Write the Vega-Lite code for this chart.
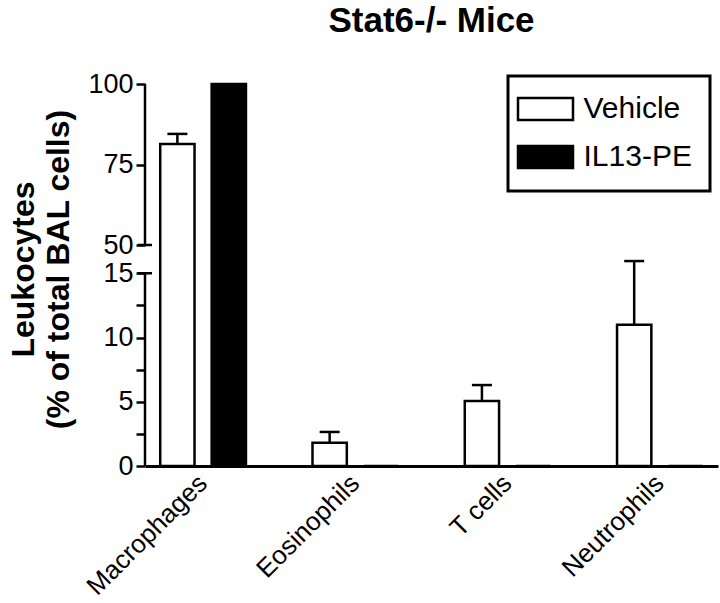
{
  "$schema": "https://vega.github.io/schema/vega-lite/v6.json",
  "width": 573,
  "height": 382,
  "autosize": {"type": "none"},
  "padding": {"left": 145, "top": 84, "right": 2, "bottom": 137},
  "background": "white",
  "config": {
    "view": {"stroke": null},
    "font": "Liberation Sans"
  },
  "title": {
    "text": "Stat6-/- Mice",
    "font": "Liberation Sans",
    "fontSize": 35,
    "fontWeight": "bold",
    "color": "black",
    "anchor": "middle",
    "frame": "group",
    "baseline": "alphabetic",
    "offset": 3
  },
  "datasets": {
    "bars": [
      {"cell": "Macrophages", "treatment": "Vehicle", "pct": 81.4, "sem_top": 84.5},
      {"cell": "Macrophages", "treatment": "IL13-PE", "pct": 100, "sem_top": null},
      {"cell": "Eosinophils", "treatment": "Vehicle", "pct": 1.8, "sem_top": 2.65},
      {"cell": "Eosinophils", "treatment": "IL13-PE", "pct": 0, "sem_top": null},
      {"cell": "T cells", "treatment": "Vehicle", "pct": 5.05, "sem_top": 6.3},
      {"cell": "T cells", "treatment": "IL13-PE", "pct": 0, "sem_top": null},
      {"cell": "Neutrophils", "treatment": "Vehicle", "pct": 11.0, "sem_top": 15.95},
      {"cell": "Neutrophils", "treatment": "IL13-PE", "pct": 0, "sem_top": null}
    ],
    "axisSegments": [
      {"lo": 0, "hi": 15},
      {"lo": 50, "hi": 100}
    ],
    "breakTicks": [
      {"v": 15},
      {"v": 50}
    ]
  },
  "layer": [
    {
      "data": {"name": "bars"},
      "mark": {"type": "bar", "stroke": "black", "strokeWidth": 2.5},
      "encoding": {
        "x": {
          "field": "cell",
          "type": "nominal",
          "sort": ["Macrophages", "Eosinophils", "T cells", "Neutrophils"],
          "scale": {"paddingInner": 0.437, "paddingOuter": 0.1},
          "axis": {
            "title": null,
            "labelAngle": -45,
            "labelAlign": "right",
            "labelBaseline": "middle",
            "labelFont": "Liberation Sans",
            "labelFontSize": 26,
            "labelColor": "black",
            "labelPadding": 13,
            "ticks": false,
            "domainColor": "black",
            "domainWidth": 3
          }
        },
        "xOffset": {
          "field": "treatment",
          "type": "nominal",
          "sort": ["Vehicle", "IL13-PE"],
          "scale": {"paddingInner": 0.333, "paddingOuter": 0}
        },
        "y": {
          "field": "pct",
          "type": "quantitative",
          "scale": {"domain": [0, 17.2, 50, 100], "range": [382, 161, 161, 0], "nice": false, "zero": false},
          "axis": {
            "values": [0, 2.5, 5, 7.5, 10, 12.5, 15, 50, 75, 100],
            "labelExpr": "(datum.value == 2.5 || datum.value == 7.5 || datum.value == 12.5) ? '' : datum.label",
            "labelOverlap": false,
            "labelFont": "Liberation Sans",
            "labelFontSize": 27,
            "labelColor": "black",
            "labelPadding": 3,
            "tickSize": 9,
            "tickWidth": 2.5,
            "tickColor": "black",
            "domain": false,
            "grid": false,
            "title": ["Leukocytes", "(% of total BAL cells)"],
            "titleFont": "Liberation Sans",
            "titleFontSize": 32,
            "titleFontWeight": "bold",
            "titleColor": "black",
            "titleLineHeight": 35,
            "titlePadding": 12,
            "titleY": 185
          }
        },
        "fill": {
          "field": "treatment",
          "type": "nominal",
          "sort": ["Vehicle", "IL13-PE"],
          "scale": {"domain": ["Vehicle", "IL13-PE"], "range": ["white", "black"]},
          "legend": {
            "title": null,
            "orient": "none",
            "legendX": 363,
            "legendY": -8,
            "padding": 18,
            "strokeColor": "black",
            "labelFont": "Liberation Sans",
            "labelFontSize": 30,
            "labelColor": "black",
            "labelOffset": 23,
            "rowPadding": 16,
            "symbolType": "M-2.5,-1H2.5V1H-2.5Z",
            "symbolSize": 484,
            "symbolOffset": 4.5,
            "symbolStrokeColor": "black",
            "symbolStrokeWidth": 2.5,
            "symbolOpacity": 1,
            "encode": {"legend": {"update": {"strokeWidth": {"value": 3}, "stroke": {"value": "black"}}}}
          }
        }
      }
    },
    {
      "data": {"name": "bars"},
      "transform": [{"filter": "datum.sem_top != null"}],
      "mark": {"type": "rule", "color": "black", "strokeWidth": 2.5},
      "encoding": {
        "x": {"field": "cell", "type": "nominal", "sort": ["Macrophages", "Eosinophils", "T cells", "Neutrophils"]},
        "xOffset": {"field": "treatment", "type": "nominal", "sort": ["Vehicle", "IL13-PE"]},
        "y": {"field": "pct", "type": "quantitative"},
        "y2": {"field": "sem_top"}
      }
    },
    {
      "data": {"name": "bars"},
      "transform": [{"filter": "datum.sem_top != null"}],
      "mark": {"type": "tick", "color": "black", "size": 20, "thickness": 2.5, "orient": "horizontal", "opacity": 1},
      "encoding": {
        "x": {"field": "cell", "type": "nominal", "sort": ["Macrophages", "Eosinophils", "T cells", "Neutrophils"]},
        "xOffset": {"field": "treatment", "type": "nominal", "sort": ["Vehicle", "IL13-PE"]},
        "y": {"field": "sem_top", "type": "quantitative"}
      }
    },
    {
      "data": {"name": "axisSegments"},
      "mark": {"type": "rule", "color": "black", "strokeWidth": 2.5},
      "encoding": {
        "x": {"value": 0},
        "y": {"field": "lo", "type": "quantitative"},
        "y2": {"field": "hi"}
      }
    },
    {
      "data": {"name": "breakTicks"},
      "mark": {"type": "tick", "color": "black", "size": 14, "thickness": 2.5, "orient": "horizontal", "opacity": 1},
      "encoding": {
        "x": {"value": 0},
        "y": {"field": "v", "type": "quantitative"}
      }
    }
  ]
}
